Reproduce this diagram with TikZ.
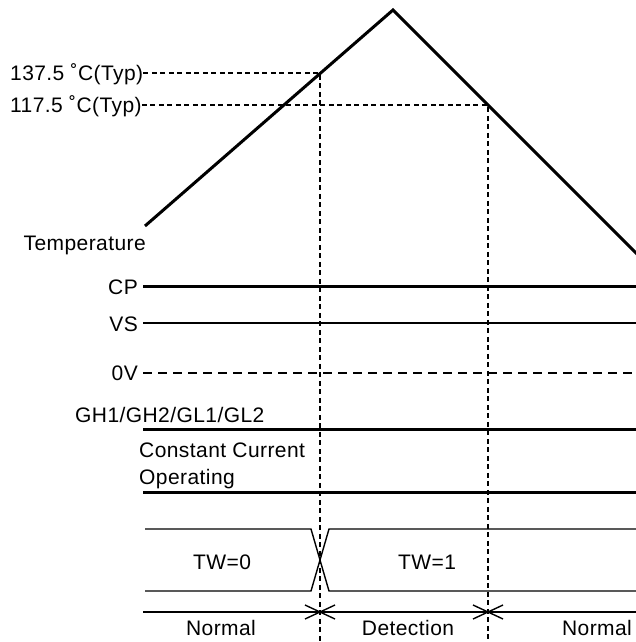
\documentclass[tikz,border=0pt]{standalone}
\usepackage{fontspec}
\setmainfont[LetterSpace=2]{Liberation Sans}
\begin{document}
\begin{tikzpicture}[x=1pt,y=-1pt,
  every node/.style={font=\fontsize{21}{24}\selectfont, inner sep=0pt},
  thickline/.style={line width=3pt},
  thinline/.style={line width=1.4pt},
  dashline/.style={line width=1.4pt, dash pattern=on 5pt off 3.5pt},
  zeroline/.style={line width=1.4pt, dash pattern=on 9pt off 6pt},
  lbl/.style={anchor=base east},
]
\useasboundingbox (0,0) rectangle (636,642);
% temperature curve
\coordinate (tl) at (145,226);
\coordinate (tp) at (393,10);
\coordinate (tr) at (638,255);
\draw[thickline, line join=miter] (tl) -- (tp) -- (tr);
\coordinate (h1) at (320,73);
\coordinate (h2) at (488,105);
\coordinate (b1) at (320,642);
\coordinate (b2) at (488,642);
\node[anchor=base west] (t137) at (10,80) {137.5 ˚C(Typ)};
\node[anchor=base west] (t117) at (10,112) {117.5 ˚C(Typ)};
\draw[dashline] (t137.east |- h1) -- (h1) -- (b1);
\draw[dashline] (t117.east |- h2) -- (h2) -- (b2);
\node[anchor=base east] (temp) at (146,250) {Temperature};
% signal rows
\node[lbl] (cp) at (138,294) {CP};
\node[lbl] (vs) at (138,331) {VS};
\node[lbl] (zv) at (138,380) {0V};
\coordinate (cpE) at (636,286);
\coordinate (vsE) at (636,323);
\coordinate (zvE) at (636,373);
\draw[thickline] (143,286) -- (cpE);
\draw[thinline] (143,323) -- (vsE);
\draw[zeroline] (143,373) -- (zvE);
\node[anchor=base west] (gh) at (75,422) {GH1/GH2/GL1/GL2};
\draw[thickline] (143,429) -- (636,429);
\node[anchor=base west] (cc1) at (139,457) {Constant Current};
\node[anchor=base west] (cc2) at (139,484) {Operating};
\draw[thickline] (143,492) -- (636,492);
% TW bus
\draw[thinline] (145,529) -- (311,529) -- (329,591) -- (636,591);
\draw[thinline] (145,591) -- (311,591) -- (329,529) -- (636,529);
\node (tw0) at (222,562) {TW=0};
\node (tw1) at (427,562) {TW=1};
% state row
\draw[thinline] (143,612) -- (636,612);
\foreach \xx in {320,488}{
  \draw[thinline] (\xx-15,605) -- (\xx+15,619);
  \draw[thinline] (\xx-15,619) -- (\xx+15,605);
}
\node (n1) at (221,628) {Normal};
\node (det) at (408,628) {Detection};
\node (n2) at (597,628) {Normal};
\end{tikzpicture}
\end{document}
